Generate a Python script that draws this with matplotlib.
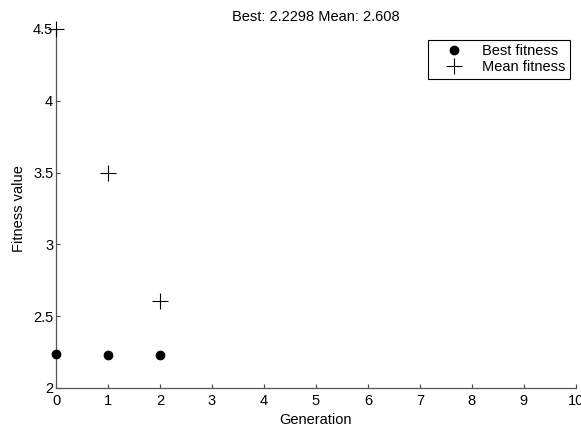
import matplotlib
matplotlib.use("Agg")
import matplotlib.pyplot as plt

plt.rcParams["font.family"] = ["Liberation Sans", "DejaVu Sans"]

generations = [0, 1, 2]
best_fitness = [2.24, 2.2298, 2.2298]
mean_fitness = [4.5, 3.5, 2.608]
x_ticks = [0, 1, 2, 3, 4, 5, 6, 7, 8, 9, 10]
y_ticks = [2, 2.5, 3, 3.5, 4, 4.5]
y_tick_labels = ["2", "2.5", "3", "3.5", "4", "4.5"]

fig = plt.figure(figsize=(5.81, 4.30), dpi=100)
ax = fig.add_axes([0.0964, 0.0977, 0.8946, 0.8349])

ax.plot(generations, best_fitness, linestyle="none", marker="o", markersize=6,
        color="black", label="Best fitness", clip_on=False, zorder=5)
ax.plot(generations, mean_fitness, linestyle="none", marker="+", markersize=12,
        markeredgewidth=0.8, color="black", label="Mean fitness", clip_on=False, zorder=5)

ax.set_xlim(0, 10)
ax.set_ylim(2, 4.5)
ax.set_xticks(x_ticks)
ax.set_yticks(y_ticks)
ax.set_yticklabels(y_tick_labels)
ax.tick_params(direction="in", length=3, width=0.8, labelsize=10.5, colors="#444444",
               labelcolor="black")
ax.tick_params(axis="x", pad=4)
ax.tick_params(axis="y", pad=2)

for side in ["top", "right"]:
    ax.spines[side].set_visible(False)
for side in ["left", "bottom"]:
    ax.spines[side].set_color("#555555")
    ax.spines[side].set_linewidth(0.9)

ax.set_xlabel("Generation", fontsize=10.5, labelpad=4)
ax.set_ylabel("Fitness value", fontsize=10.5, labelpad=5)
ax.set_title("Best: 2.2298 Mean: 2.608", fontsize=10.5, pad=6)

leg = ax.legend(loc="upper right", bbox_to_anchor=(0.988, 0.97), fontsize=10.5,
                fancybox=False, edgecolor="black", framealpha=1,
                handlelength=3.0, borderpad=0.3, labelspacing=0.15, handletextpad=0.4,
                borderaxespad=0)
leg.get_frame().set_linewidth(0.8)

fig.savefig("out.png", dpi=100, facecolor="white")
